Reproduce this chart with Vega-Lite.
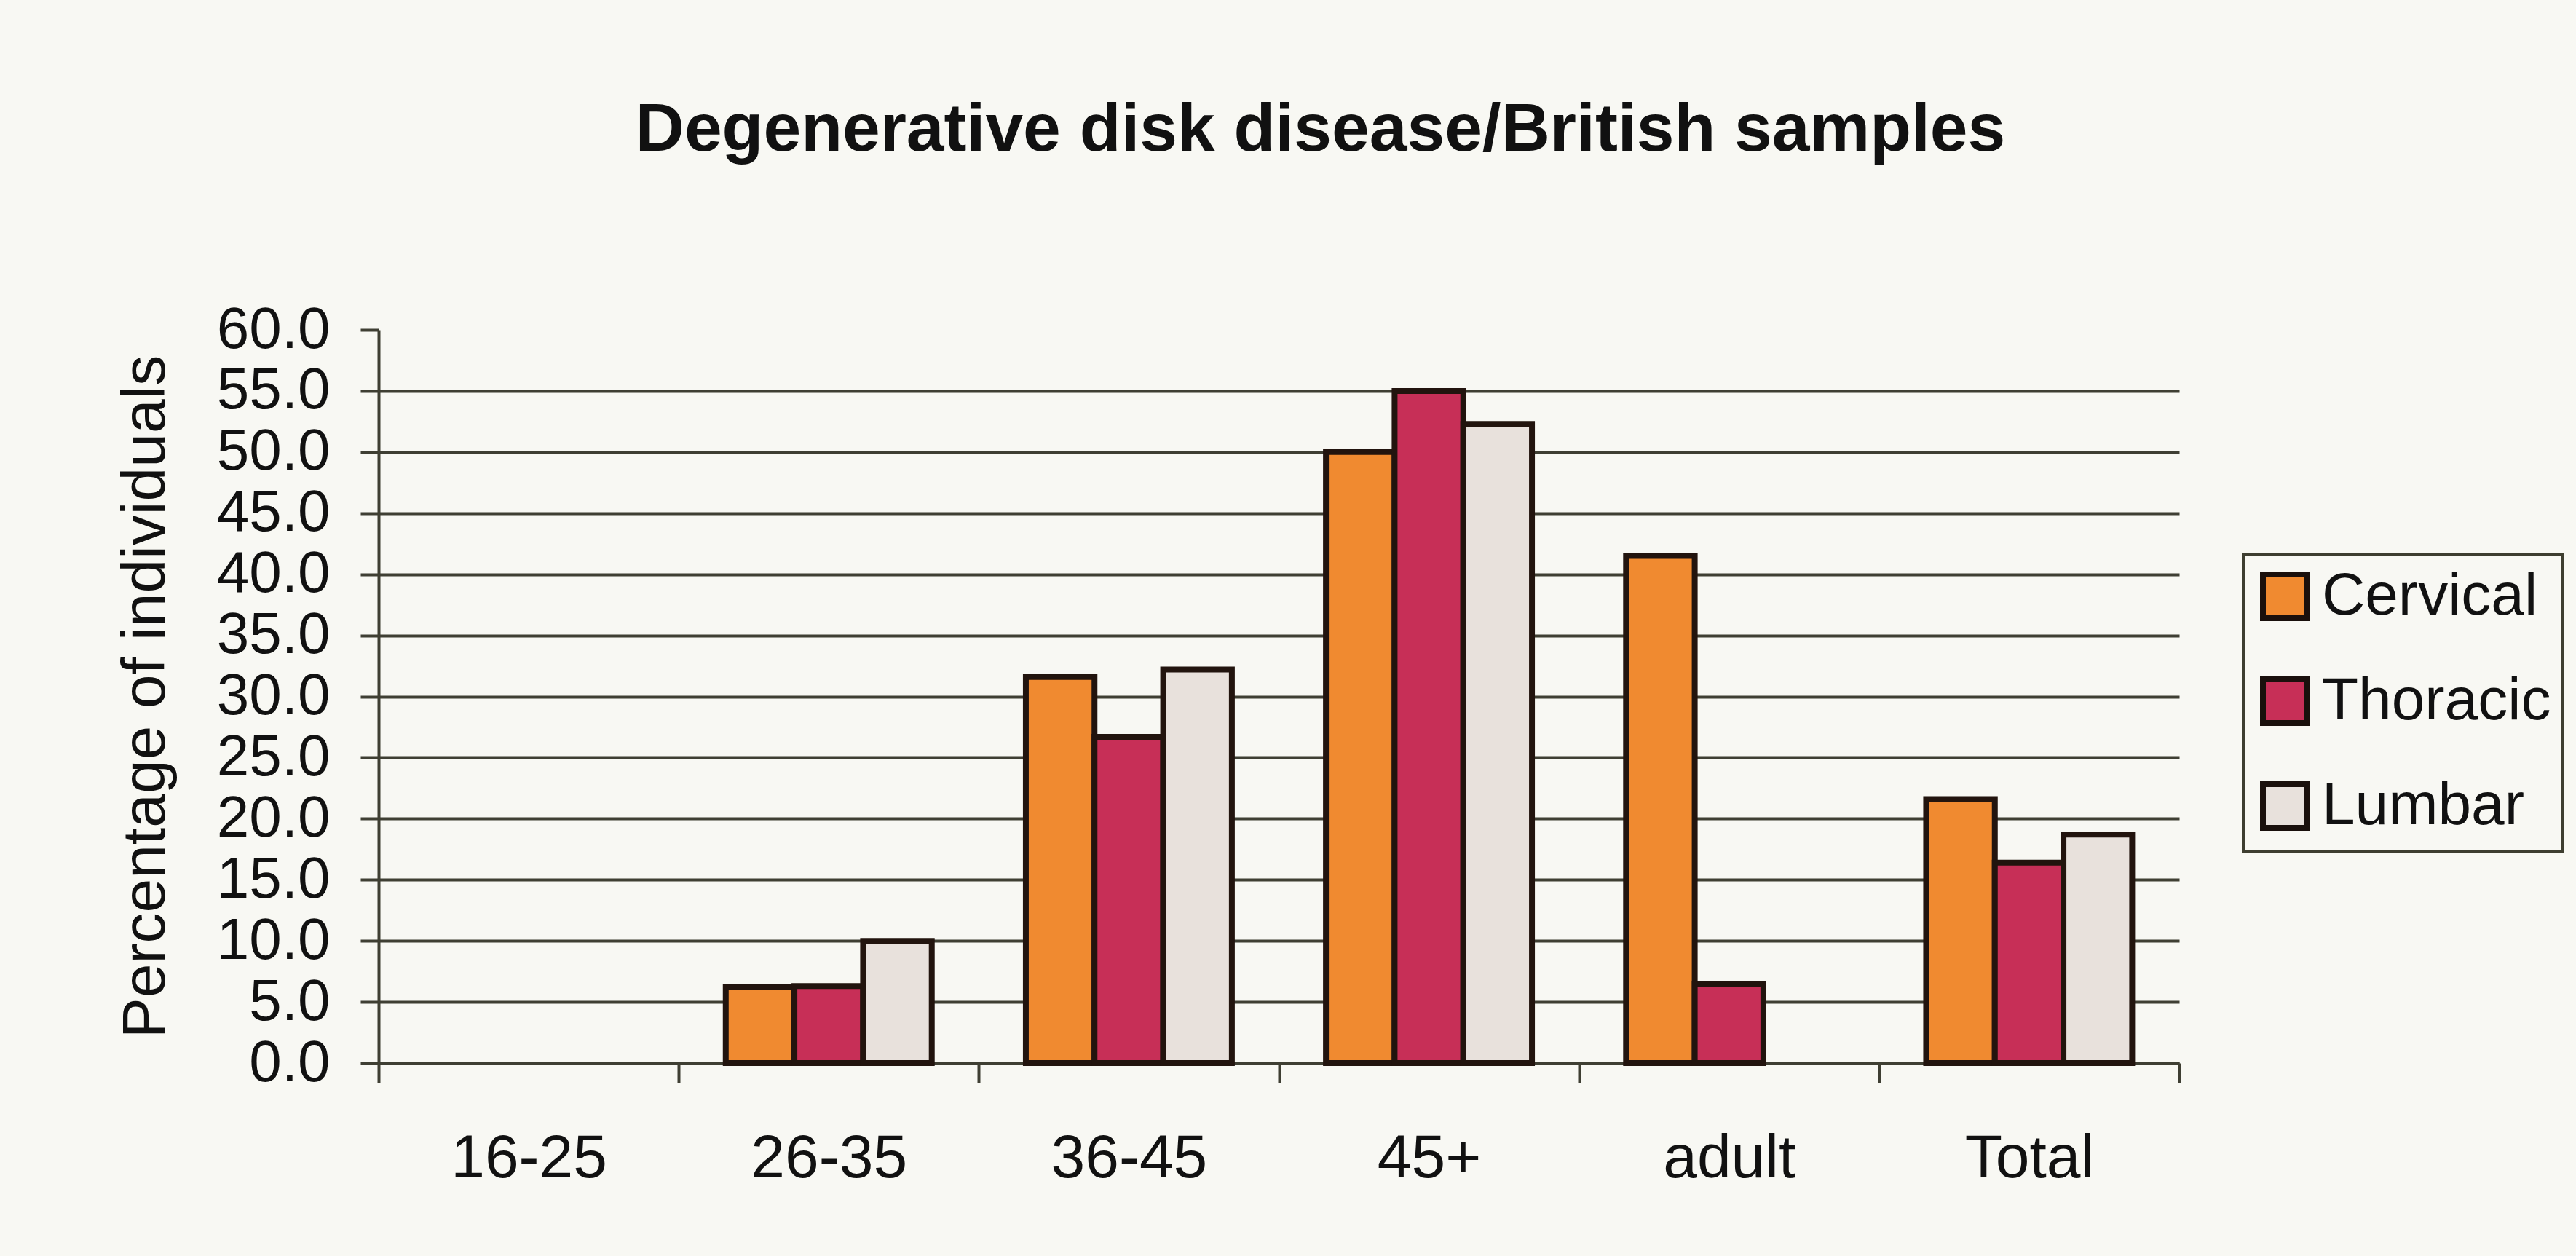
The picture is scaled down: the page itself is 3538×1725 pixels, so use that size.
{
  "$schema": "https://vega.github.io/schema/vega-lite/v6.json",
  "autosize": {"type": "none"},
  "width": 2473,
  "height": 1007,
  "padding": {"left": 520, "top": 453, "right": 545, "bottom": 265},
  "background": "#f8f8f3",
  "title": {
    "text": "Degenerative disk disease/British samples",
    "fontSize": 93,
    "fontWeight": "bold",
    "font": "Liberation Sans",
    "color": "#111111",
    "anchor": "middle",
    "frame": "group",
    "dx": 57,
    "baseline": "alphabetic",
    "offset": 113
  },
  "data": {
    "values": [
      {"age": "16-25", "region": "Cervical", "value": 0},
      {"age": "16-25", "region": "Thoracic", "value": 0},
      {"age": "16-25", "region": "Lumbar", "value": 0},
      {"age": "26-35", "region": "Cervical", "value": 6.2},
      {"age": "26-35", "region": "Thoracic", "value": 6.3},
      {"age": "26-35", "region": "Lumbar", "value": 10.0},
      {"age": "36-45", "region": "Cervical", "value": 31.6},
      {"age": "36-45", "region": "Thoracic", "value": 26.7},
      {"age": "36-45", "region": "Lumbar", "value": 32.2},
      {"age": "45+", "region": "Cervical", "value": 50.0},
      {"age": "45+", "region": "Thoracic", "value": 55.0},
      {"age": "45+", "region": "Lumbar", "value": 52.3},
      {"age": "adult", "region": "Cervical", "value": 41.5},
      {"age": "adult", "region": "Thoracic", "value": 6.5},
      {"age": "adult", "region": "Lumbar", "value": 0},
      {"age": "Total", "region": "Cervical", "value": 21.6},
      {"age": "Total", "region": "Thoracic", "value": 16.4},
      {"age": "Total", "region": "Lumbar", "value": 18.7}
    ]
  },
  "mark": {"type": "bar", "stroke": "#22140e", "strokeJoin": "miter"},
  "encoding": {
    "x": {
      "field": "age",
      "type": "nominal",
      "sort": ["16-25", "26-35", "36-45", "45+", "adult", "Total"],
      "scale": {"paddingInner": 0, "paddingOuter": 0},
      "axis": {
        "title": null,
        "labelAngle": 0,
        "labelFontSize": 84,
        "labelFont": "Liberation Sans",
        "labelColor": "#111111",
        "labelPadding": 63,
        "labelLimit": 0,
        "labelOverlap": false,
        "tickBand": "extent",
        "ticks": true,
        "tickSize": 27,
        "tickWidth": 4,
        "tickColor": "#3f3f33",
        "domainColor": "#3f3f33",
        "domainWidth": 4,
        "grid": false
      }
    },
    "xOffset": {
      "field": "region",
      "type": "nominal",
      "sort": ["Cervical", "Thoracic", "Lumbar"],
      "scale": {"paddingInner": 0, "paddingOuter": 0.685}
    },
    "y": {
      "field": "value",
      "type": "quantitative",
      "scale": {"domain": [0, 60], "nice": false},
      "axis": {
        "title": "Percentage of individuals",
        "titleFontSize": 84,
        "titleFontWeight": "normal",
        "titleFont": "Liberation Sans",
        "titleColor": "#111111",
        "titlePadding": 77,
        "values": [0, 5, 10, 15, 20, 25, 30, 35, 40, 45, 50, 55, 60],
        "format": ".1f",
        "labelFontSize": 80,
        "labelFont": "Liberation Sans",
        "labelColor": "#111111",
        "labelPadding": 42,
        "labelOverlap": false,
        "labelLimit": 0,
        "tickSize": 25,
        "tickWidth": 4,
        "tickColor": "#3f3f33",
        "domainColor": "#3f3f33",
        "domainWidth": 4,
        "grid": true,
        "gridColor": "#3f3f33",
        "gridWidth": 4,
        "gridOpacity": {"condition": {"test": "datum.value == 60", "value": 0}, "value": 1}
      }
    },
    "color": {
      "field": "region",
      "type": "nominal",
      "sort": ["Cervical", "Thoracic", "Lumbar"],
      "scale": {"domain": ["Cervical", "Thoracic", "Lumbar"], "range": ["#f08a30", "#c72f57", "#e8e1dc"]},
      "legend": {
        "title": null,
        "orient": "none",
        "legendX": 2561,
        "legendY": 309,
        "symbolType": "square",
        "symbolSize": 3600,
        "symbolStrokeColor": "#1a100c",
        "symbolStrokeWidth": 8,
        "symbolOpacity": 1,
        "labelFontSize": 82,
        "labelFont": "Liberation Sans",
        "labelColor": "#111111",
        "labelOffset": 10,
        "labelLimit": 0,
        "rowPadding": 52,
        "padding": 16,
        "strokeColor": "#3e3e30",
        "fillColor": "#f8f8f3",
        "encode": {"legend": {"update": {"strokeWidth": {"value": 4}}}}
      }
    },
    "strokeWidth": {"condition": {"test": "datum.value == 0", "value": 0}, "value": 8}
  },
  "config": {
    "view": {"stroke": null},
    "bar": {"opacity": 1}
  }
}
